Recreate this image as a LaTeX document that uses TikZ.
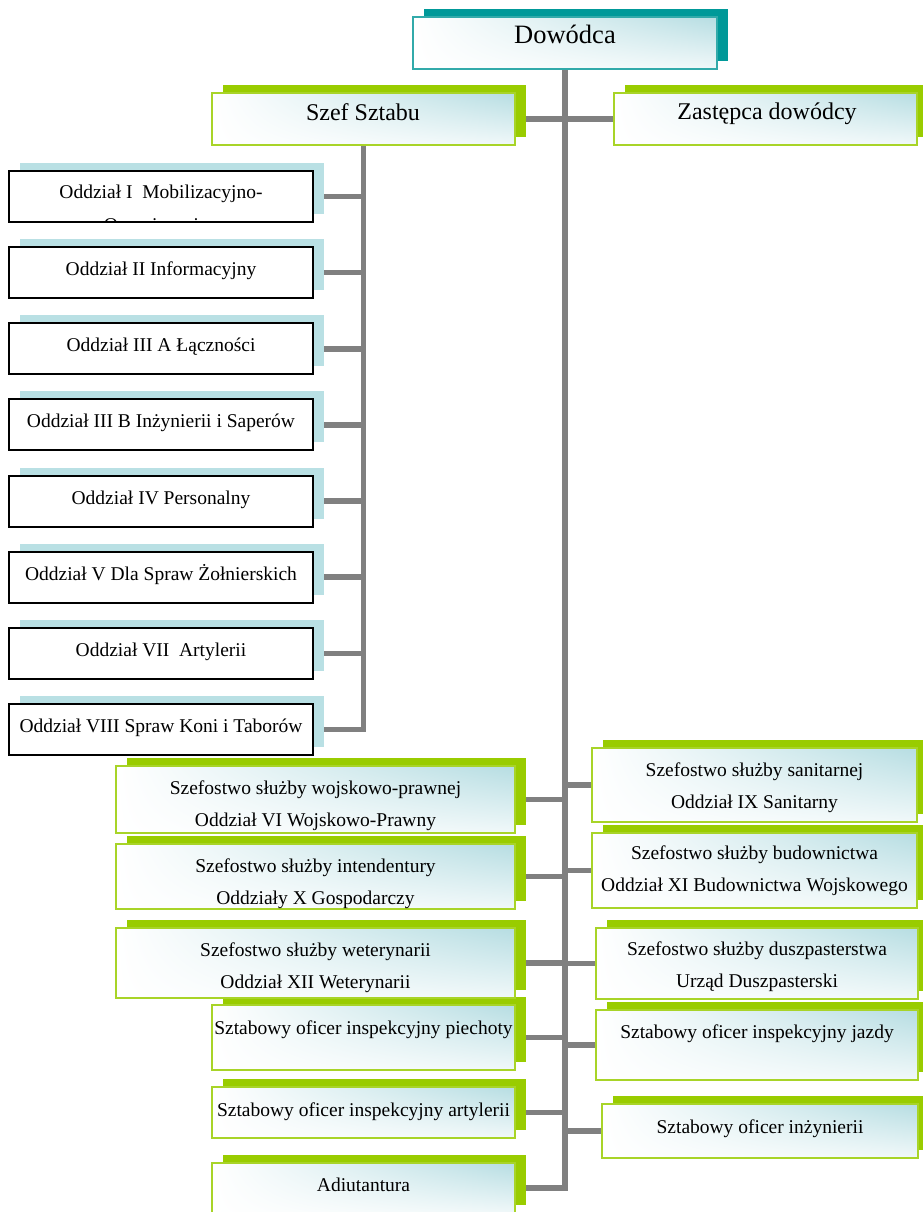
\documentclass[tikz,border=0pt]{standalone}
\usepackage{fontspec}
\setmainfont{Liberation Serif}
\usetikzlibrary{shadings}
\definecolor{tealsh}{RGB}{0,153,153}
\definecolor{tealbd}{RGB}{50,170,170}
\definecolor{grsh}{RGB}{153,204,0}
\definecolor{grbd}{RGB}{168,212,40}
\definecolor{lbsh}{RGB}{185,224,228}
\definecolor{lbfill}{RGB}{182,221,226}
\definecolor{conn}{RGB}{128,128,128}
\pgfdeclarelayer{bglayer}
\pgfdeclarelayer{shlayer}
\pgfsetlayers{bglayer,shlayer,main}
\tikzset{
  box/.style={rectangle, inner sep=0pt, outer sep=0pt},
  gradbox/.style={box, line width=2pt, upper left=white, upper right=lbfill, lower left=white, lower right=lbfill!20},
  gbox/.style={gradbox, draw=grbd},
  tbox/.style={gradbox, draw=tealbd},
  obox/.style={box, draw=black, line width=2pt, fill=white},
  txt/.style={anchor=base, inner sep=0pt, font=\fontsize{19.5}{32}\selectfont},
  link/.style={draw=conn, line width=5.5pt},
}
\newcommand{\shadowbox}[2]{\fill[#1] ([shift={(11,-8)}]#2.north west) rectangle ([shift={(11,-8)}]#2.south east);}
\begin{document}
\begin{tikzpicture}[x=1pt, y=-1pt]
\useasboundingbox (0,0) rectangle (922,1212);
% boxes
\node[tbox, minimum width=304pt, minimum height=52pt] (dow) at (565,43) {};
\node[gbox, minimum width=303pt, minimum height=52pt] (szef) at (363.5,119) {};
\node[gbox, minimum width=303pt, minimum height=52pt] (zast) at (765.5,119) {};
\foreach \i/\y in {1/196.5,2/272.6,3/348.8,4/424.9,5/501.1,6/577.2,7/653.4,8/729.5}{
  \node[obox, minimum width=304pt, minimum height=51pt] (o\i) at (161,\y) {};
}
\node[gbox, minimum width=399pt, minimum height=67pt] (vi) at (315.5,799.5) {};
\node[gbox, minimum width=399pt, minimum height=65pt] (intend) at (315.5,876.5) {};
\node[gbox, minimum width=399pt, minimum height=70pt] (weter) at (315.5,963) {};
\node[gbox, minimum width=303pt, minimum height=65pt] (piech) at (363.5,1037.5) {};
\node[gbox, minimum width=303pt, minimum height=51pt] (artyl) at (363.5,1112.5) {};
\node[gbox, minimum width=303pt, minimum height=50pt] (adiut) at (363.5,1188) {};
\node[gbox, minimum width=325pt, minimum height=74pt] (sanit) at (754.5,785) {};
\node[gbox, minimum width=325pt, minimum height=75pt] (budow) at (754.5,870.5) {};
\node[gbox, minimum width=322pt, minimum height=71pt] (dusz) at (757,963.5) {};
\node[gbox, minimum width=322pt, minimum height=70pt] (jazdy) at (757,1045) {};
\node[gbox, minimum width=316pt, minimum height=54pt] (inzyn) at (760,1131) {};
% shadows
\begin{pgfonlayer}{shlayer}
\shadowbox{tealsh}{dow}
\foreach \n in {szef,zast,vi,intend,weter,piech,artyl,adiut,sanit,budow,dusz,jazdy,inzyn}{\shadowbox{grsh}{\n}}
\foreach \i in {1,...,8}{\shadowbox{lbsh}{o\i}}
\end{pgfonlayer}
% connectors
\begin{pgfonlayer}{bglayer}
\draw[link] (dow.south) -- (dow.south |- adiut.east) -- (adiut.east);
\draw[link] (szef.east) -- (zast.west);
\draw[link] (szef.south) -- (szef.south |- o8.east) -- (o8.east);
\foreach \i in {1,...,7}{\draw[link] (o\i.east) -- (o\i.east -| szef.south);}
\foreach \n in {vi,intend,weter,piech,artyl}{\draw[link] (\n.east) -- (\n.east -| dow.south);}
\foreach \n in {sanit,budow,dusz,jazdy,inzyn}{\draw[link] (\n.west) -- (\n.west -| dow.south);}
\end{pgfonlayer}
% texts
\node[txt, font=\fontsize{26.5}{30}\selectfont] (tdow) at (565,44) {Dowódca};
\node[txt, font=\fontsize{24}{30}\selectfont] (tszef) at (363,121) {Szef Sztabu};
\node[txt, font=\fontsize{24}{30}\selectfont] (tzast) at (767,120) {Zastępca dowódcy};
\begin{scope}
  \clip (o1.north west) rectangle (o1.south east);
  \node[txt] (to1a) at (161,198) {Oddział I\ \ Mobilizacyjno-};
  \node[txt] (to1b) at (161,231) {Organizacyjny};
\end{scope}
\draw[black, line width=2pt] (o1.north west) rectangle (o1.south east);
\node[txt] (to2) at (161,275.6) {Oddział II Informacyjny};
\node[txt] (to3) at (161,351.8) {Oddział III A Łączności};
\node[txt] (to4) at (161,427.9) {Oddział III B Inżynierii i Saperów};
\node[txt] (to5) at (161,504.1) {Oddział IV Personalny};
\node[txt] (to6) at (161,580.2) {Oddział V Dla Spraw Żołnierskich};
\node[txt] (to7) at (161,656.4) {Oddział VII\ \ Artylerii};
\node[txt] (to8) at (161,732.5) {Oddział VIII Spraw Koni i Taborów};
\node[txt] (tvi1) at (315.5,794) {Szefostwo służby wojskowo-prawnej};
\node[txt] (tvi2) at (315.5,826) {Oddział VI Wojskowo-Prawny};
\node[txt] (tin1) at (315.5,872) {Szefostwo służby intendentury};
\node[txt] (tin2) at (315.5,904) {Oddziały X Gospodarczy};
\node[txt] (twe1) at (315.5,956) {Szefostwo służby weterynarii};
\node[txt] (twe2) at (315.5,988) {Oddział XII Weterynarii};
\node[txt] (tpi) at (363.5,1034) {Sztabowy oficer inspekcyjny piechoty};
\node[txt] (tar) at (363.5,1116) {Sztabowy oficer inspekcyjny artylerii};
\node[txt] (tad) at (363.5,1191) {Adiutantura};
\node[txt] (tsa1) at (754.5,776) {Szefostwo służby sanitarnej};
\node[txt] (tsa2) at (754.5,808) {Oddział IX Sanitarny};
\node[txt] (tbu1) at (754.5,859) {Szefostwo służby budownictwa};
\node[txt] (tbu2) at (754.5,891) {Oddział XI Budownictwa Wojskowego};
\node[txt] (tdu1) at (757,955) {Szefostwo służby duszpasterstwa};
\node[txt] (tdu2) at (757,987) {Urząd Duszpasterski};
\node[txt] (tja) at (757,1038) {Sztabowy oficer inspekcyjny jazdy};
\node[txt] (tiz) at (760,1133) {Sztabowy oficer inżynierii};
\end{tikzpicture}
\end{document}
